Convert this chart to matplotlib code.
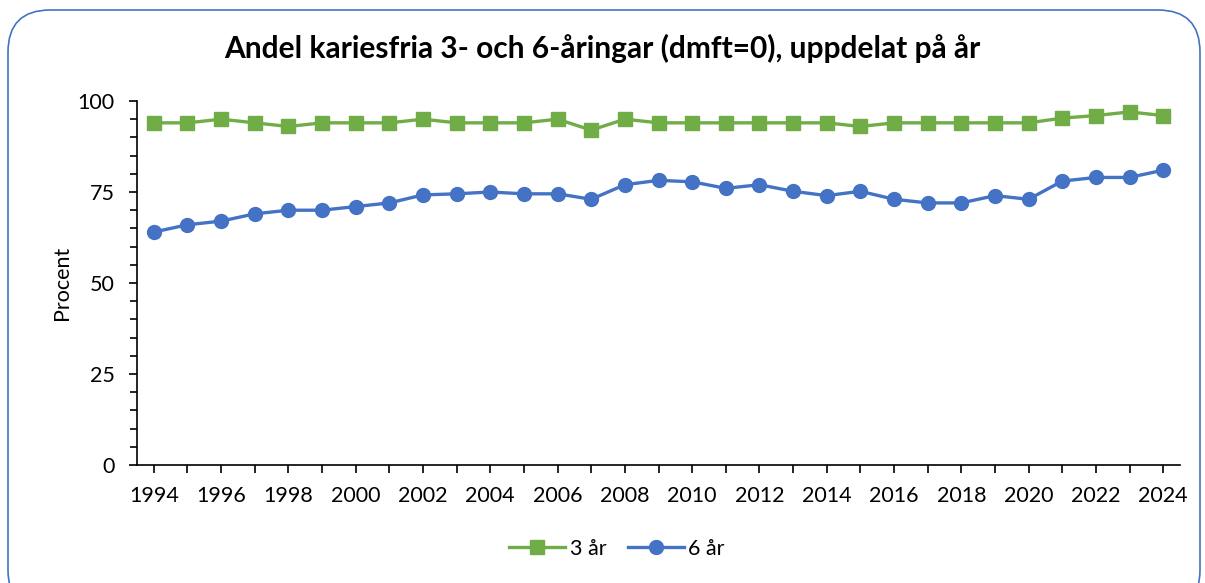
import matplotlib
matplotlib.use("Agg")
import matplotlib.pyplot as plt
from matplotlib.patches import FancyBboxPatch
from matplotlib.ticker import MultipleLocator

years = list(range(1994, 2025))
tre_ar = [94, 94, 95, 94, 93, 94, 94, 94, 95, 94,
          94, 94, 95, 92, 95, 94, 94, 94, 94, 94,
          94, 93, 94, 94, 94, 94, 94, 95.3, 96, 97, 96]
sex_ar = [64, 66, 67, 69, 70, 70, 71, 72, 74.2, 74.5,
          75, 74.5, 74.5, 73, 77, 78.2, 77.8, 76, 77, 75.2,
          74, 75.2, 73, 72, 72, 74, 73, 78, 79, 79, 81]
xtick_labels = [str(y) for y in range(1994, 2025, 2)]

plt.rcParams['font.family'] = ['Lato', 'DejaVu Sans']

fig = plt.figure(figsize=(12.05, 5.83), dpi=100)
border = FancyBboxPatch((8/1205, -0.05), (1192)/1205, 1.0 - 10/583 + 0.05,
                        boxstyle="round,pad=0,rounding_size=0.035",
                        transform=fig.transFigure, fill=False,
                        edgecolor="#4472C4", linewidth=1.2,
                        mutation_aspect=1205/583)
fig.patches.append(border)

ax = fig.add_axes([137/1205, 1 - 465/583, (1180 - 137)/1205, (465 - 101)/583])
green = "#70AD47"
blue = "#4472C4"
ax.plot(years, tre_ar, color=green, linewidth=2.4, marker="s", markersize=9.5,
        label="3 år", zorder=3)
ax.plot(years, sex_ar, color=blue, linewidth=2.4, marker="o", markersize=10,
        label="6 år", zorder=3)

ax.set_xlim(1993.5, 2024.5)
ax.set_ylim(0, 100)
ax.yaxis.set_major_locator(MultipleLocator(25))
ax.yaxis.set_minor_locator(MultipleLocator(5))
ax.set_xticks(years, minor=True)
ax.set_xticks(list(range(1994, 2025, 2)))
ax.set_xticklabels(xtick_labels)
for s in ["top", "right"]:
    ax.spines[s].set_visible(False)
for s in ["left", "bottom"]:
    ax.spines[s].set_linewidth(1.2)
    ax.spines[s].set_color("black")
ax.tick_params(axis="both", which="both", direction="out", color="black", width=1.2)
ax.tick_params(axis="y", which="major", length=6, labelsize=15.5, pad=10)
ax.tick_params(axis="y", which="minor", length=5)
ax.tick_params(axis="x", which="both", length=6, labelsize=15.5, pad=9)
ax.set_ylabel("Procent", fontsize=15.5, labelpad=4)

fig.text(0.5, 1 - 48/583, "Andel kariesfria 3- och 6-åringar (dmft=0), uppdelat på år",
         ha="center", va="center", fontsize=21.5, fontweight="bold")

fig.legend(loc="center", bbox_to_anchor=(617/1205, 1 - 549/583), ncol=2,
           frameon=False, fontsize=15.5, handlelength=2.6, columnspacing=1.0,
           handletextpad=0.2)

fig.savefig("out.png", dpi=100)
